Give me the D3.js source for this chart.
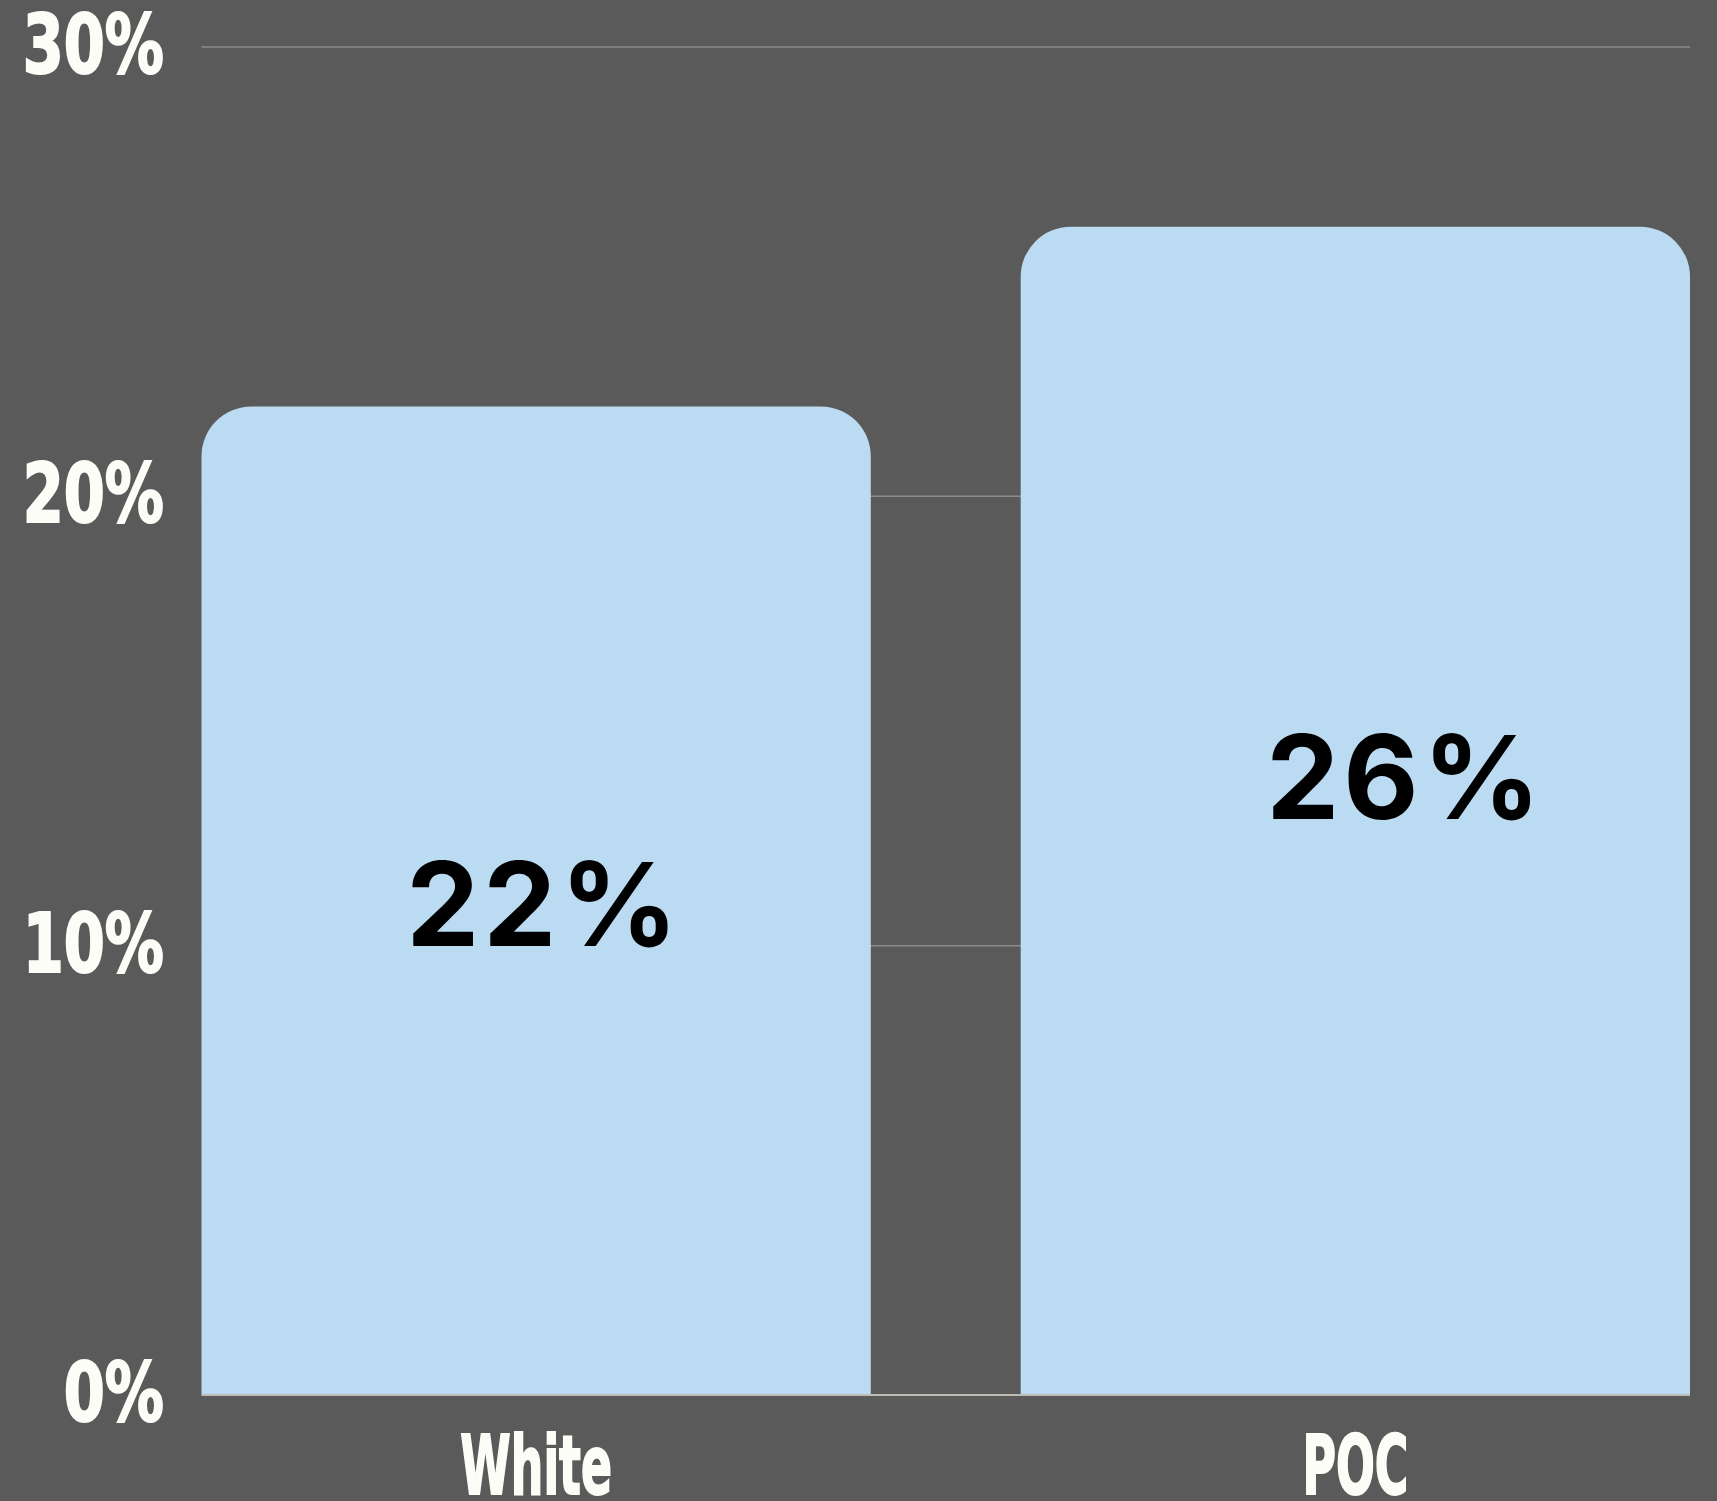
<!DOCTYPE html>
<html><head><meta charset="utf-8">
<script src="https://cdn.jsdelivr.net/npm/d3@7"></script>
<style>
html,body{margin:0;padding:0;background:#5a5a5a;}
svg{display:block;}
.tick-lbl{font-family:"DejaVu Sans Condensed","DejaVu Sans",sans-serif;font-weight:700;fill:#fdfdf8;stroke:#fdfdf8;stroke-width:2px;}
.val-lbl{font-family:Inter,"Noto Sans",sans-serif;font-weight:700;fill:#000;}
</style></head>
<body>
<svg id="chart" width="1717" height="1501"></svg>
<script>
const categories = ["White", "POC"];
const values = [22, 26];
const tickValues = [0, 10, 20, 30];
const tickLabels = ["0%", "10%", "20%", "30%"];

const W = 1717, H = 1501;
const margin = {top: 47, right: 27, bottom: 106, left: 201.5};
const svg = d3.select("#chart");
svg.append("rect").attr("width", W).attr("height", H).attr("fill", "#5a5a5a");

const x = d3.scaleBand().domain(categories)
  .range([margin.left, W - margin.right]).paddingInner(0.183).paddingOuter(0);
const y = d3.scaleLinear().domain([0, 30]).range([H - margin.bottom, margin.top]);

// gridlines
svg.append("g").selectAll("line").data(tickValues.filter(d => d > 0)).join("line")
  .attr("x1", margin.left).attr("x2", W - margin.right)
  .attr("y1", d => y(d)).attr("y2", d => y(d))
  .attr("stroke", "#8c8c8c").attr("stroke-width", 1.5);

// bars with rounded top corners
const r = 50;
function barPath(d, i) {
  const x0 = x(categories[i]), x1 = x0 + x.bandwidth();
  const yt = y(d), yb = y(0);
  return `M${x0},${yb}L${x0},${yt + r}A${r},${r} 0 0 1 ${x0 + r},${yt}L${x1 - r},${yt}A${r},${r} 0 0 1 ${x1},${yt + r}L${x1},${yb}Z`;
}
svg.append("g").selectAll("path").data(values).join("path")
  .attr("d", (d, i) => barPath(d, i))
  .attr("fill", "#bbdbf3");

// baseline
svg.append("line").attr("x1", margin.left).attr("x2", W - margin.right)
  .attr("y1", y(0)).attr("y2", y(0)).attr("stroke", "#bdbdb5").attr("stroke-width", 2);

// y tick labels
svg.append("g").selectAll("text").data(tickValues).join("text")
  .attr("class", "tick-lbl")
  .attr("transform", d => `translate(164,${y(d) + 26}) scale(0.8,1)`)
  .attr("text-anchor", "end").attr("font-size", 82)
  .text((d, i) => tickLabels[i]);

// category labels
svg.append("g").selectAll("text").data(categories).join("text")
  .attr("class", "tick-lbl")
  .attr("transform", d => `translate(${x(d) + x.bandwidth() / 2},${y(0) + 99}) scale(0.62,1)`)
  .attr("text-anchor", "middle").attr("font-size", 82)
  .text(d => d);

// value labels
const nudgeX = [8, 50], nudgeY = [3, -34];
svg.append("g").selectAll("text").data(values).join("text")
  .attr("class", "val-lbl")
  .attr("x", (d, i) => x(categories[i]) + x.bandwidth() / 2 + nudgeX[i])
  .attr("y", (d, i) => (y(d) + y(0)) / 2 + nudgeY[i] + 42)
  .attr("text-anchor", "middle").attr("font-size", 116)
  .attr("letter-spacing", 4)
  .text(d => d + "%");
</script>
</body></html>
